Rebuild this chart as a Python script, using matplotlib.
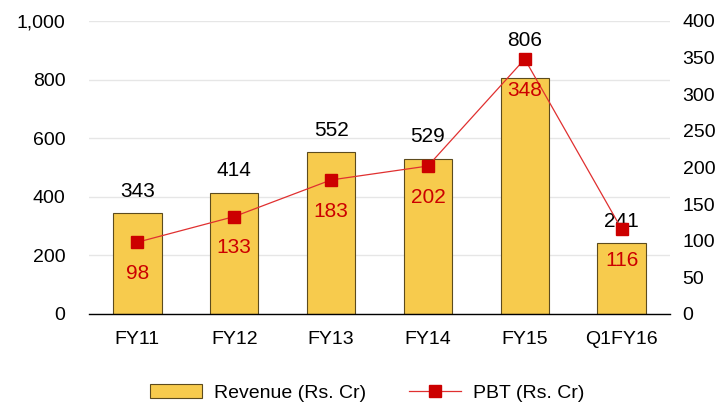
import matplotlib.pyplot as plt

plt.rcParams['font.family'] = ['Liberation Sans', 'DejaVu Sans']

years = ['FY11', 'FY12', 'FY13', 'FY14', 'FY15', 'Q1FY16']
revenue = [343, 414, 552, 529, 806, 241]
pbt = [98, 133, 183, 202, 348, 116]

fig = plt.figure(figsize=(7.27, 4.05), dpi=100)
ax = fig.add_axes([0.1224, 0.2247, 0.7992, 0.7235])
ax2 = ax.twinx()

x = range(len(years))
bars = ax.bar(x, revenue, width=0.5, color='#F7CB4D', edgecolor='#5C4B1E', linewidth=0.8,
              label='Revenue (Rs. Cr)', zorder=2)
line, = ax2.plot(x, pbt, color='#E03030', linewidth=0.9, marker='s', markersize=9,
                 markerfacecolor='#CC0000', markeredgecolor='#CC0000', label='PBT (Rs. Cr)',
                 zorder=3)

# revenue labels above the bars; the FY15 one is lifted clear of the marker
for i, v in enumerate(revenue):
    dy = 27 if i == 4 else 16
    ax2.annotate(str(v), (i, v * 0.4), xytext=(0, dy), textcoords='offset points',
                 ha='center', va='center', fontsize=15, color='black', zorder=2)
for i, v in enumerate(pbt):
    ax2.annotate(str(v), (i, v), xytext=(0, -22.5), textcoords='offset points',
                 ha='center', va='center', fontsize=15, color='#CC0000')

ax.set_xlim(-0.5, 5.5)
ax.set_ylim(0, 1000)
ax.set_yticks(range(0, 1001, 200))
ax.set_yticklabels(['0', '200', '400', '600', '800', '1,000'])
ax2.set_ylim(0, 400)
ax2.set_yticks(range(0, 401, 50))
ax.set_xticks(list(x))
ax.set_xticklabels(years)

ax.grid(axis='y', color='#E6E6E6', linewidth=1, zorder=0)
ax.set_axisbelow(True)
for a in (ax, ax2):
    for s in ('top', 'left', 'right'):
        a.spines[s].set_visible(False)
    a.tick_params(length=0, labelsize=14)
ax.tick_params(axis='y', pad=17)
ax.tick_params(axis='x', pad=12)
ax2.tick_params(axis='y', pad=9)
ax.spines['bottom'].set_visible(False)
ax2.spines['bottom'].set_color('black')
ax2.spines['bottom'].set_linewidth(1)

fig.legend([bars, line], ['Revenue (Rs. Cr)', 'PBT (Rs. Cr)'], loc='lower center',
           bbox_to_anchor=(0.505, -0.035), ncol=2, frameon=False, fontsize=14,
           columnspacing=2.2, handlelength=2.7, handletextpad=0.6)

fig.savefig('out.png', dpi=100)
